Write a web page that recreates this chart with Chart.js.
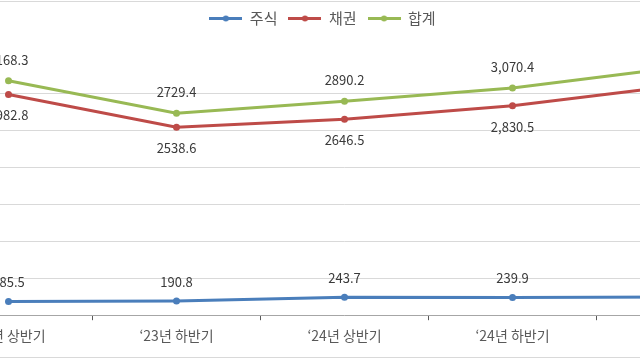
<!DOCTYPE html>
<html><head><meta charset="utf-8">
<script src="https://cdn.jsdelivr.net/npm/chart.js@4"></script>
<style>
html,body{margin:0;padding:0;background:#fff;}
#frame{position:absolute;left:0;top:0;width:640px;height:360px;overflow:hidden;background:#fff;}
#wrap{position:absolute;left:-79px;top:0;width:847px;height:360px;}
#topline{position:absolute;left:0;top:1px;width:640px;height:0;border-top:1px solid #d9d9d9;z-index:2;}
#botline{position:absolute;left:0;top:357px;width:640px;height:0;border-top:1px solid #d9d9d9;z-index:2;}
</style></head>
<body>
<div id="frame">
<div id="topline"></div><div id="botline"></div>
<div id="wrap"><canvas id="c"></canvas></div>
</div>
<script>
const categories = ['‘23년 상반기', '‘23년 하반기', '‘24년 상반기', '‘24년 하반기', '‘25년 상반기'];
const seriesNames = ['주식', '채권', '합계'];
const stockValues = [185.5, 190.8, 243.7, 239.9, 246.0];
const bondValues = [2982.8, 2538.6, 2646.5, 2830.5, 3107.0];
const totalValues = [3168.3, 2729.4, 2890.2, 3070.4, 3353.0];
const stockLabels = ['185.5', '190.8', '243.7', '239.9', '246.0'];
const bondLabels = ['2982.8', '2538.6', '2646.5', '2,830.5', '3,107.0'];
const totalLabels = ['3168.3', '2729.4', '2890.2', '3,070.4', '3,353.0'];
const yMax = 3500;
const yStep = 500;

const colors = ['#4A7EBB', '#BE4B48', '#98B954'];
const labelOffsets = [-19, 21, -21];
const FONT = '"Noto Sans CJK KR", "Noto Sans", sans-serif';

function legendIcon(color){
  const cv = document.createElement('canvas');
  cv.width = 33; cv.height = 9;
  const g = cv.getContext('2d');
  g.strokeStyle = color; g.lineWidth = 3;
  g.beginPath(); g.moveTo(0, 4.5); g.lineTo(33, 4.5); g.stroke();
  g.fillStyle = color;
  g.beginPath(); g.arc(16.5, 4.5, 3, 0, Math.PI*2); g.fill();
  return cv;
}

const valueLabels = {
  id: 'valueLabels',
  afterDatasetsDraw(chart){
    const ctx = chart.ctx;
    ctx.save();
    ctx.font = '13px ' + FONT;
    ctx.fillStyle = '#3a3a3a';
    ctx.textAlign = 'center';
    ctx.textBaseline = 'middle';
    chart.data.datasets.forEach((ds, i) => {
      const meta = chart.getDatasetMeta(i);
      meta.data.forEach((pt, j) => {
        ctx.fillText(ds.labelText[j], pt.x, pt.y + labelOffsets[i]);
      });
    });
    ctx.restore();
  }
};

const legendShift = {
  id: 'legendShift',
  afterLayout(chart){
    if (chart.legend){ chart.legend.left -= 22; chart.legend.right -= 22; }
  }
};

const mk = (i, data, labels) => ({
  label: seriesNames[i], data, labelText: labels,
  borderColor: colors[i], backgroundColor: colors[i],
  pointBackgroundColor: colors[i], pointBorderColor: colors[i],
  borderWidth: 3, pointRadius: 3.5, pointBorderWidth: 0, pointHoverRadius: 3.5, tension: 0,
  clip: false
});

new Chart(document.getElementById('c'), {
  type: 'line',
  data: {
    labels: categories,
    datasets: [mk(0, stockValues, stockLabels), mk(1, bondValues, bondLabels), mk(2, totalValues, totalLabels)]
  },
  options: {
    responsive: true, maintainAspectRatio: false, animation: false,
    layout: { padding: { top: 0, bottom: 9, left: 0, right: 0 } },
    plugins: {
      tooltip: { enabled: false },
      title: { display: true, text: ' ', font: { size: 1 }, padding: { top: 0, bottom: 19 } },
      legend: {
        position: 'top', align: 'center', weight: 3000,
        labels: {
          usePointStyle: true, pointStyleWidth: 33, boxHeight: 9,
          padding: 11, color: '#595959',
          font: { family: FONT, size: 15 },
          generateLabels(chart){
            return chart.data.datasets.map((ds, i) => ({
              text: ds.label, pointStyle: legendIcon(colors[i]),
              fillStyle: colors[i], strokeStyle: colors[i], lineWidth: 0,
              fontColor: '#595959', hidden: false, datasetIndex: i
            }));
          }
        }
      }
    },
    scales: {
      x: {
        offset: true,
        grid: { display: true, drawOnChartArea: false, drawTicks: true, tickLength: 5, color: '#595959', offset: true },
        border: { display: true, color: '#a6a6a6', width: 1 },
        ticks: { color: '#595959', padding: 7, maxRotation: 0, font: { family: FONT, size: 14 } }
      },
      y: {
        min: 0, max: yMax,
        afterFit(scale){ scale.width = 0; },
        ticks: { display: false, stepSize: yStep },
        grid: { drawTicks: false, color: c => (c.tick && c.tick.value >= yMax) ? 'rgba(0,0,0,0)' : '#d9d9d9' },
        border: { display: false }
      }
    }
  },
  plugins: [valueLabels, legendShift]
});
</script>
</body></html>
